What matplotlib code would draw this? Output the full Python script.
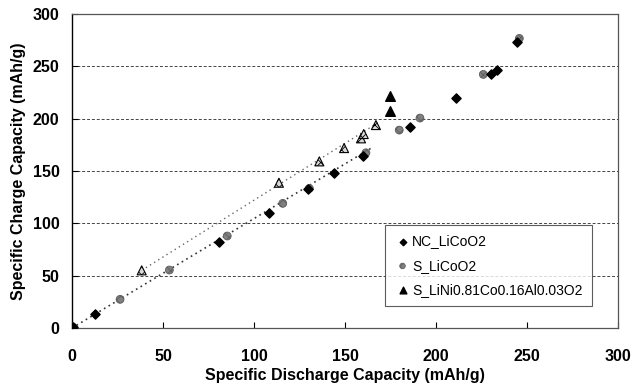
import numpy as np
import matplotlib as mpl
mpl.use('Agg')
import matplotlib.pyplot as plt

# NC_LiCoO2 (black diamonds)
nc_x = [0.3, 12.6, 81.0, 108.0, 129.5, 144.0, 159.7, 185.7, 211.0, 230.2, 233.3, 244.3]
nc_y = [0.5, 13.4, 82.0, 110.0, 132.5, 148.3, 164.3, 192.3, 219.4, 242.3, 246.4, 273.5]

# S_LiCoO2 (grey circles)
s_x = [0.5, 26.4, 53.5, 85.3, 115.8, 130.4, 161.5, 179.8, 191.2, 226.0, 245.8]
s_y = [1.0, 27.4, 55.4, 87.9, 119.1, 133.4, 167.4, 189.1, 200.6, 242.3, 276.7]

# S_LiNi0.81Co0.16Al0.03O2 (hatched triangles on the trend, solid ones at the end)
t_x = [38.3, 113.7, 135.9, 149.5, 158.8, 160.3, 167.0]
t_y = [55.1, 138.8, 159.2, 171.9, 181.2, 185.3, 193.9]
tb_x = [174.7, 174.7]
tb_y = [207.3, 221.6]

# trend lines (end points)
trend_lo_x = [0, 165]
trend_lo_y = [0, 172.5]
trend_hi_x = [38.3, 168]
trend_hi_y = [55.1, 196]

plt.rcParams['font.family'] = ['Liberation Sans', 'DejaVu Sans']
plt.rcParams['hatch.linewidth'] = 0.6

fig = plt.figure(figsize=(6.44, 3.88), dpi=100)
ax = fig.add_axes([0.1118, 0.1546, 0.8478, 0.8093])

for y in [50, 100, 150, 200, 250]:
    ax.axhline(y, color='#444444', lw=0.7, ls=(0, (3, 2)), zorder=0)

ax.plot(trend_lo_x, trend_lo_y, ls=(0, (1, 2.2)), color='#333333', lw=1.2, zorder=1)
ax.plot(trend_hi_x, trend_hi_y, ls=(0, (1, 2.5)), color='#666666', lw=1.0, zorder=1)

ax.scatter(t_x, t_y, marker='^', s=42, facecolor='#d8d8d8', edgecolor='black',
           hatch='xxxx', lw=0.8, zorder=3)
ax.scatter(s_x, s_y, marker='o', s=32, facecolor='#808080', edgecolor='#5e5e5e',
           hatch='xxxx', lw=0.6, zorder=3, label='S_LiCoO2')
ax.scatter(nc_x, nc_y, marker='D', s=22, color='black', zorder=4, label='NC_LiCoO2')
ax.scatter(tb_x, tb_y, marker='^', s=48, color='black', zorder=4,
           label='S_LiNi0.81Co0.16Al0.03O2')

ax.set_xlim(0, 300)
ax.set_ylim(0, 300)
ax.set_xticks(np.arange(0, 301, 50))
ax.set_yticks(np.arange(0, 301, 50))
ax.tick_params(direction='in', length=4, width=0.8, labelsize=11.5)
ax.tick_params(axis='x', pad=15)
ax.tick_params(axis='y', pad=9)
for lab in ax.get_xticklabels() + ax.get_yticklabels():
    lab.set_fontweight('bold')

ax.spines['left'].set_color('black')
ax.spines['left'].set_linewidth(1.0)
for s in ['top', 'right', 'bottom']:
    ax.spines[s].set_color('#555555')
    ax.spines[s].set_linewidth(0.9)

ax.set_xlabel('Specific Discharge Capacity (mAh/g)', fontsize=11.5, fontweight='bold', labelpad=3)
ax.set_ylabel('Specific Charge Capacity (mAh/g)', fontsize=11.5, fontweight='bold', labelpad=5)

handles, labels = ax.get_legend_handles_labels()
order = [labels.index('NC_LiCoO2'), labels.index('S_LiCoO2'),
         labels.index('S_LiNi0.81Co0.16Al0.03O2')]
leg = ax.legend([handles[i] for i in order], [labels[i] for i in order],
                loc='lower right', bbox_to_anchor=(0.952, 0.07), borderaxespad=0,
                fontsize=10, frameon=True, fancybox=False, edgecolor='#333333',
                handletextpad=0.1, handlelength=1.2, markerscale=0.7,
                labelspacing=0.75, borderpad=0.65)
leg.get_frame().set_linewidth(0.8)

fig.savefig('out.png', dpi=100)
plt.close()
